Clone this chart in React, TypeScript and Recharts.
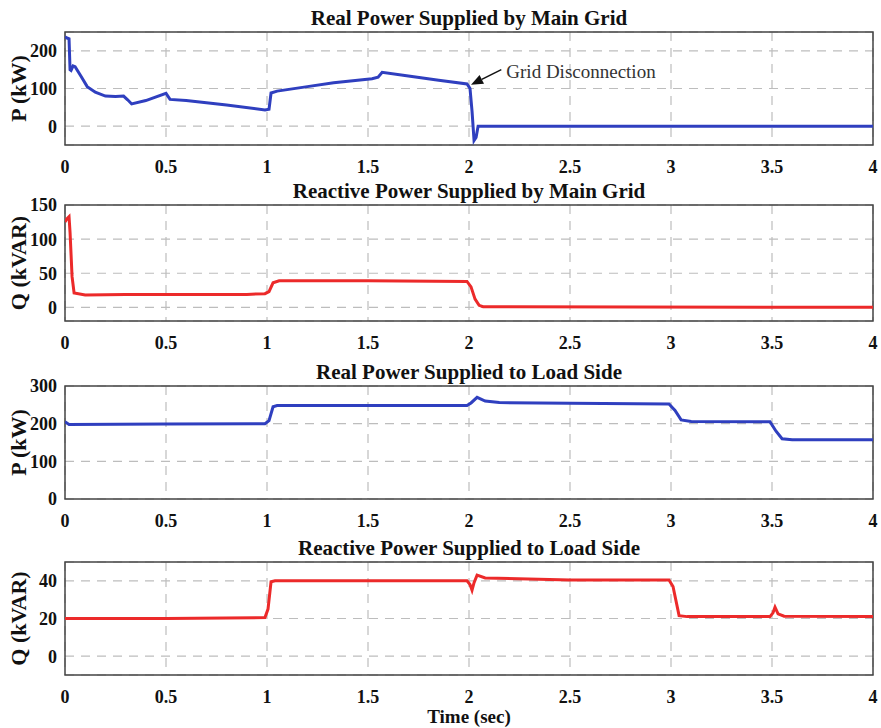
import { LineChart, Line, XAxis, YAxis, CartesianGrid, ReferenceArea, ReferenceLine } from "recharts";

const TIME_TICKS = [0, 0.5, 1, 1.5, 2, 2.5, 3, 3.5, 4];

// Real power from main grid
const pGridT = [0, 0.01, 0.02, 0.025, 0.03, 0.04, 0.05, 0.08, 0.11, 0.15, 0.2, 0.25, 0.29, 0.31, 0.33, 0.4, 0.5, 0.52, 0.6, 0.8, 0.99, 1.01, 1.02, 1.05, 1.2, 1.33, 1.52, 1.55, 1.57, 1.7, 1.85, 1.99, 2.005, 2.015, 2.025, 2.035, 2.045, 4];
const pGridV = [237, 234, 232, 150, 148, 160, 158, 132, 105, 90, 80, 79, 80, 70, 59, 68, 87, 71, 68, 56, 43, 45, 88, 93, 105, 115, 126, 130, 143, 133, 122, 112, 100, 40, -38, -30, 0, 0];

// Reactive power from main grid
const qGridT = [0, 0.01, 0.02, 0.025, 0.035, 0.045, 0.1, 0.3, 0.6, 0.9, 0.99, 1.01, 1.03, 1.06, 1.5, 1.99, 2.01, 2.03, 2.05, 2.07, 4];
const qGridV = [125, 130, 133, 110, 45, 21, 18, 19, 19, 19, 20, 23, 36, 39, 39, 38, 30, 12, 3, 1, 0];

// Real power to load
const pLoadT = [0, 0.02, 0.5, 0.99, 1.01, 1.03, 1.05, 1.5, 1.99, 2.01, 2.04, 2.08, 2.15, 2.5, 2.99, 3.02, 3.05, 3.1, 3.49, 3.52, 3.55, 3.6, 4];
const pLoadV = [205, 198, 199, 200, 208, 245, 248, 248, 248, 255, 270, 260, 256, 254, 252, 235, 210, 206, 205, 180, 160, 157, 157];

// Reactive power to load
const qLoadT = [0, 0.5, 0.99, 1.005, 1.02, 1.04, 1.5, 1.99, 2.005, 2.015, 2.025, 2.04, 2.08, 2.5, 2.99, 3.01, 3.04, 3.08, 3.49, 3.505, 3.515, 3.53, 3.56, 4];
const qLoadV = [20, 20, 20.5, 25, 39.5, 40, 40, 40, 38, 35, 39, 43, 41.5, 40.5, 40.5, 37, 21.5, 21, 21, 23, 26, 22.5, 21.2, 21];

const BLUE = "#2f3fbf";
const RED = "#ec2a2a";
const FONT = "'Liberation Serif', 'Times New Roman', serif";

const zip = (t: number[], v: number[]) => t.map((x, i) => ({ t: x, v: v[i] }));

function Arrow(props: any) {
  const { x1, y1, x2, y2 } = props;
  const ang = Math.atan2(y2 - y1, x2 - x1);
  const L = 12, W = 5;
  const bx = x2 - L * Math.cos(ang), by = y2 - L * Math.sin(ang);
  const px = -Math.sin(ang) * W, py = Math.cos(ang) * W;
  return (
    <g>
      <line x1={x1} y1={y1} x2={bx} y2={by} stroke="#111" strokeWidth={1.5} />
      <polygon points={`${x2},${y2} ${bx + px},${by + py} ${bx - px},${by - py}`} fill="#111" />
      <text x={x1 + 5} y={y1 + 2} dominantBaseline="central" fontFamily={FONT} fontSize={19} fill="#333">
        Grid Disconnection
      </text>
    </g>
  );
}

interface PanelProps {
  top: number;
  height: number;
  plotTop: number;
  plotBottom: number;
  title: string;
  ylabel: string;
  domain: [number, number];
  ticks: number[];
  data: { t: number; v: number }[];
  color: string;
  annotate?: boolean;
  xlabel?: string;
}

const tickStyle = { fontFamily: FONT, fontWeight: "bold", fontSize: 18, fill: "#111" };

function Panel({ top, height, plotTop, plotBottom, title, ylabel, domain, ticks, data, color, annotate, xlabel }: PanelProps) {
  const axisH = 30;
  return (
    <div style={{ position: "absolute", left: 0, top, width: 881, height }}>
      <div
        style={{
          position: "absolute", left: 65, width: 808, top: plotTop - 26, textAlign: "center",
          fontFamily: FONT, fontWeight: "bold", fontSize: 21, color: "#111", lineHeight: "24px",
        }}
      >
        {title}
      </div>
      <LineChart
        width={881}
        height={height}
        data={data}
        margin={{ top: plotTop, right: 8, bottom: height - plotBottom - axisH, left: 0 }}
      >
        <CartesianGrid stroke="#bdbdbd" strokeDasharray="9 7" strokeWidth={1.2} />
        <XAxis
          dataKey="t"
          type="number"
          domain={[0, 4]}
          ticks={TIME_TICKS}
          height={axisH}
          axisLine={false}
          tickLine={false}
          tickMargin={9}
          tick={tickStyle}
          allowDataOverflow
        />
        <YAxis
          type="number"
          domain={domain}
          ticks={ticks}
          width={65}
          axisLine={false}
          tickLine={false}
          tick={tickStyle}
          allowDataOverflow
          label={{
            content: (p: any) => {
              const vb = p.viewBox;
              const cx = 18;
              const cy = vb.y + vb.height / 2;
              return (
                <text
                  x={cx} y={cy} transform={`rotate(-90 ${cx} ${cy})`} textAnchor="middle" dominantBaseline="central"
                  fontFamily={FONT} fontWeight="bold" fontSize={22} fill="#111"
                >
                  {ylabel}
                </text>
              );
            },
          }}
        />
        <Line
          type="linear"
          dataKey="v"
          stroke={color}
          strokeWidth={3}
          dot={false}
          isAnimationActive={false}
        />
        <ReferenceArea x1={0} x2={4} y1={domain[0]} y2={domain[1]} fill="none" stroke="#444" strokeWidth={1.5} />
        {annotate && (
          <ReferenceLine
            segment={[{ x: 2.16, y: 150 }, { x: 2.01, y: 110 }]}
            shape={(p: any) => <Arrow {...p} />}
          />
        )}
      </LineChart>
      {xlabel && (
        <div
          style={{
            position: "absolute", left: 65, width: 808, top: plotBottom + 32, textAlign: "center",
            fontFamily: FONT, fontWeight: "bold", fontSize: 19, color: "#111", lineHeight: "20px",
          }}
        >
          {xlabel}
        </div>
      )}
    </div>
  );
}

export default function App() {
  return (
    <div style={{ position: "absolute", left: 0, top: 0, width: 881, height: 728, background: "#fff" }}>
      <Panel top={0} height={180} plotTop={32} plotBottom={145} title="Real Power Supplied by Main Grid"
        ylabel="P (kW)" domain={[-50, 250]} ticks={[0, 100, 200]} data={zip(pGridT, pGridV)} color={BLUE} annotate />
      <Panel top={180} height={180} plotTop={25} plotBottom={141} title="Reactive Power Supplied by Main Grid"
        ylabel="Q (kVAR)" domain={[-20, 150]} ticks={[0, 50, 100, 150]} data={zip(qGridT, qGridV)} color={RED} />
      <Panel top={360} height={180} plotTop={26} plotBottom={139} title="Real Power Supplied to Load Side"
        ylabel="P (kW)" domain={[0, 300]} ticks={[0, 100, 200, 300]} data={zip(pLoadT, pLoadV)} color={BLUE} />
      <Panel top={540} height={188} plotTop={22} plotBottom={135} title="Reactive Power Supplied to Load Side"
        ylabel="Q (kVAR)" domain={[-10, 50]} ticks={[0, 20, 40]} data={zip(qLoadT, qLoadV)} color={RED} xlabel="Time (sec)" />
    </div>
  );
}
